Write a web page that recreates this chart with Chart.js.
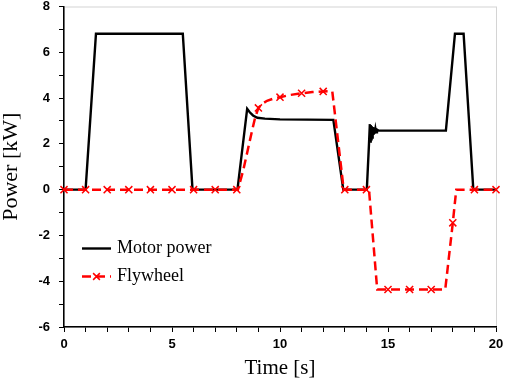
<!DOCTYPE html>
<html>
<head>
<meta charset="utf-8">
<script src="https://cdn.jsdelivr.net/npm/chart.js@4/dist/chart.umd.min.js"></script>
<style>
  html, body { margin: 0; padding: 0; background: #fff; }
  #wrap { width: 505px; height: 381px; position: relative; }
</style>
</head>
<body>
<div id="wrap"><canvas id="myChart"></canvas></div>
<script>
// motor power trace (time in s, power in kW)
const motorTime = [0, 1.0, 1.48, 5.5, 5.95, 8.03, 8.48, 8.6, 8.75, 8.95, 9.3, 10, 12.47, 12.93,
    14.02, 14.12, 14.16, 14.18, 14.2, 14.22, 14.24, 14.26, 14.28, 14.3, 14.32, 14.34, 14.36,
    14.39, 14.42, 14.45, 14.49, 14.56,
    17.68, 18.1, 18.5, 18.95, 20];
const motorPower = [0, 0, 6.81, 6.81, 0, 0, 3.53, 3.38, 3.24, 3.14, 3.1, 3.07, 3.05, 0,
    0, 2.0, 2.86, 2.1, 2.82, 2.2, 2.78, 2.28, 2.74, 2.35, 2.72, 2.4, 2.68,
    2.45, 2.65, 2.5, 2.62, 2.58,
    2.58, 6.81, 6.81, 0, 0];

// flywheel trace, markers sit on the whole seconds
const flyTime = [0, 1, 2, 3, 4, 5, 6, 7, 8, 8.05, 8.3, 8.5, 8.7, 8.85, 9, 9.2, 9.4, 9.7, 10, 10.5, 11, 11.5, 12, 12.42,
    12.95, 13, 14, 14.12, 14.5, 15, 16, 17, 17.65, 18, 18.16, 19, 20];
const flyPower = [0, 0, 0, 0, 0, 0, 0, 0, 0, 0, 0.85, 1.7, 2.55, 3.15, 3.57, 3.76, 3.88, 3.98, 4.04, 4.14, 4.21, 4.26, 4.29, 4.3,
    0, 0, 0, 0, -4.36, -4.36, -4.36, -4.36, -4.36, -1.45, 0, 0, 0];

const xTicks = [0, 5, 10, 15, 20];
const yTicks = [-6, -4, -2, 0, 2, 4, 6, 8];

const seriesNames = ['Motor power', 'Flywheel'];

function toPoints(xs, ys) {
    return xs.map((x, i) => ({ x: x, y: ys[i] }));
}

// light frame on top / right of the plot
const framePlugin = {
    id: 'frame',
    beforeDraw(chart) {
        const { ctx, chartArea: a } = chart;
        ctx.save();
        ctx.strokeStyle = '#d4d4d4';
        ctx.lineWidth = 1;
        ctx.strokeRect(a.left + 0.5, a.top + 0.5, a.right - a.left, a.bottom - a.top);
        ctx.restore();
    }
};

// legend with line + marker sample, inside the plot
const legendPlugin = {
    id: 'innerLegend',
    afterDraw(chart) {
        const { ctx, chartArea: a } = chart;
        const x0 = a.left + 18, x1 = a.left + 47;
        const rows = [a.top + 242, a.top + 270];
        ctx.save();
        chart.data.datasets.forEach((ds, i) => {
            const y = rows[i];
            ctx.strokeStyle = ds.borderColor;
            ctx.lineWidth = ds.borderWidth;
            ctx.setLineDash(ds.borderDash || []);
            ctx.beginPath();
            ctx.moveTo(x0, y);
            ctx.lineTo(x1, y);
            ctx.stroke();
            ctx.setLineDash([]);
            if (ds.legendMarker) {
                const cx = (x0 + x1) / 2, r = 4.5;
                ctx.lineWidth = 1.5;
                ctx.beginPath();
                ctx.moveTo(cx - r * 0.75, y - r * 0.75);
                ctx.lineTo(cx + r * 0.75, y + r * 0.75);
                ctx.moveTo(cx + r * 0.75, y - r * 0.75);
                ctx.lineTo(cx - r * 0.75, y + r * 0.75);
                ctx.stroke();
            }
            ctx.fillStyle = '#000';
            ctx.font = '18px "Liberation Serif", "Times New Roman", serif';
            ctx.textBaseline = 'middle';
            ctx.textAlign = 'left';
            ctx.fillText(seriesNames[i], x1 + 6, y);
        });
        ctx.restore();
    }
};

// pin the axis boxes so the plot area lands where the original one is
function noPad(s) {
    s.paddingTop = 0;
    s.paddingBottom = 0;
    s.paddingLeft = 0;
    s.paddingRight = 0;
}

const tickFont = { family: '"Liberation Sans", Arial, sans-serif', size: 13, weight: 'bold' };
const titleFont = { family: '"Liberation Serif", "Times New Roman", serif' };

const ctx = document.getElementById('myChart').getContext('2d');
const chart = new Chart(ctx, {
    type: 'line',
    data: {
        datasets: [{
            label: seriesNames[0],
            data: toPoints(motorTime, motorPower),
            borderColor: '#000000',
            borderWidth: 2.4,
            pointRadius: 0,
            tension: 0,
            clip: false,
            order: 1
        }, {
            label: seriesNames[1],
            data: toPoints(flyTime, flyPower),
            borderColor: '#ff0000',
            backgroundColor: '#ff0000',
            borderWidth: 2.5,
            borderDash: [9, 5],
            tension: 0,
            pointStyle: 'crossRot',
            pointRadius: c => Number.isInteger(c.raw.x) ? 5 : 0,
            pointBorderWidth: 1.5,
            pointBorderColor: '#ff0000',
            legendMarker: true,
            clip: false,
            order: 0
        }]
    },
    options: {
        responsive: true,
        maintainAspectRatio: false,
        animation: false,
        layout: { padding: { top: 5, right: 9, bottom: 0, left: 0 } },
        plugins: {
            legend: { display: false },
            tooltip: { enabled: false }
        },
        scales: {
            x: {
                type: 'linear',
                min: 0,
                max: 20,
                afterFit: s => { s.height = 54; noPad(s); },
                border: { display: true, color: '#000', width: 1.5 },
                grid: { drawOnChartArea: false, drawTicks: true, tickLength: 5, tickColor: '#000', lineWidth: 1 },
                ticks: {
                    stepSize: 1,
                    autoSkip: false,
                    maxRotation: 0,
                    padding: 5,
                    color: '#000',
                    font: tickFont,
                    callback: v => xTicks.includes(v) ? String(v) : ''
                },
                title: {
                    display: true,
                    text: 'Time [s]',
                    color: '#000',
                    font: { ...titleFont, size: 21 },
                    padding: 0
                }
            },
            y: {
                min: -6,
                max: 8,
                afterFit: s => { s.width = 64; noPad(s); },
                border: { display: true, color: '#000', width: 1.5 },
                grid: { drawOnChartArea: false, drawTicks: true, tickLength: 5, tickColor: '#000', lineWidth: 1 },
                ticks: {
                    stepSize: 1,
                    autoSkip: false,
                    padding: 9,
                    color: '#000',
                    font: tickFont,
                    callback: v => yTicks.includes(v) ? String(v) : ''
                },
                title: {
                    display: true,
                    text: 'Power [kW]',
                    color: '#000',
                    font: { ...titleFont, size: 22, lineHeight: 1 },
                    padding: 0
                }
            }
        }
    },
    plugins: [framePlugin, legendPlugin]
});
</script>
</body>
</html>
